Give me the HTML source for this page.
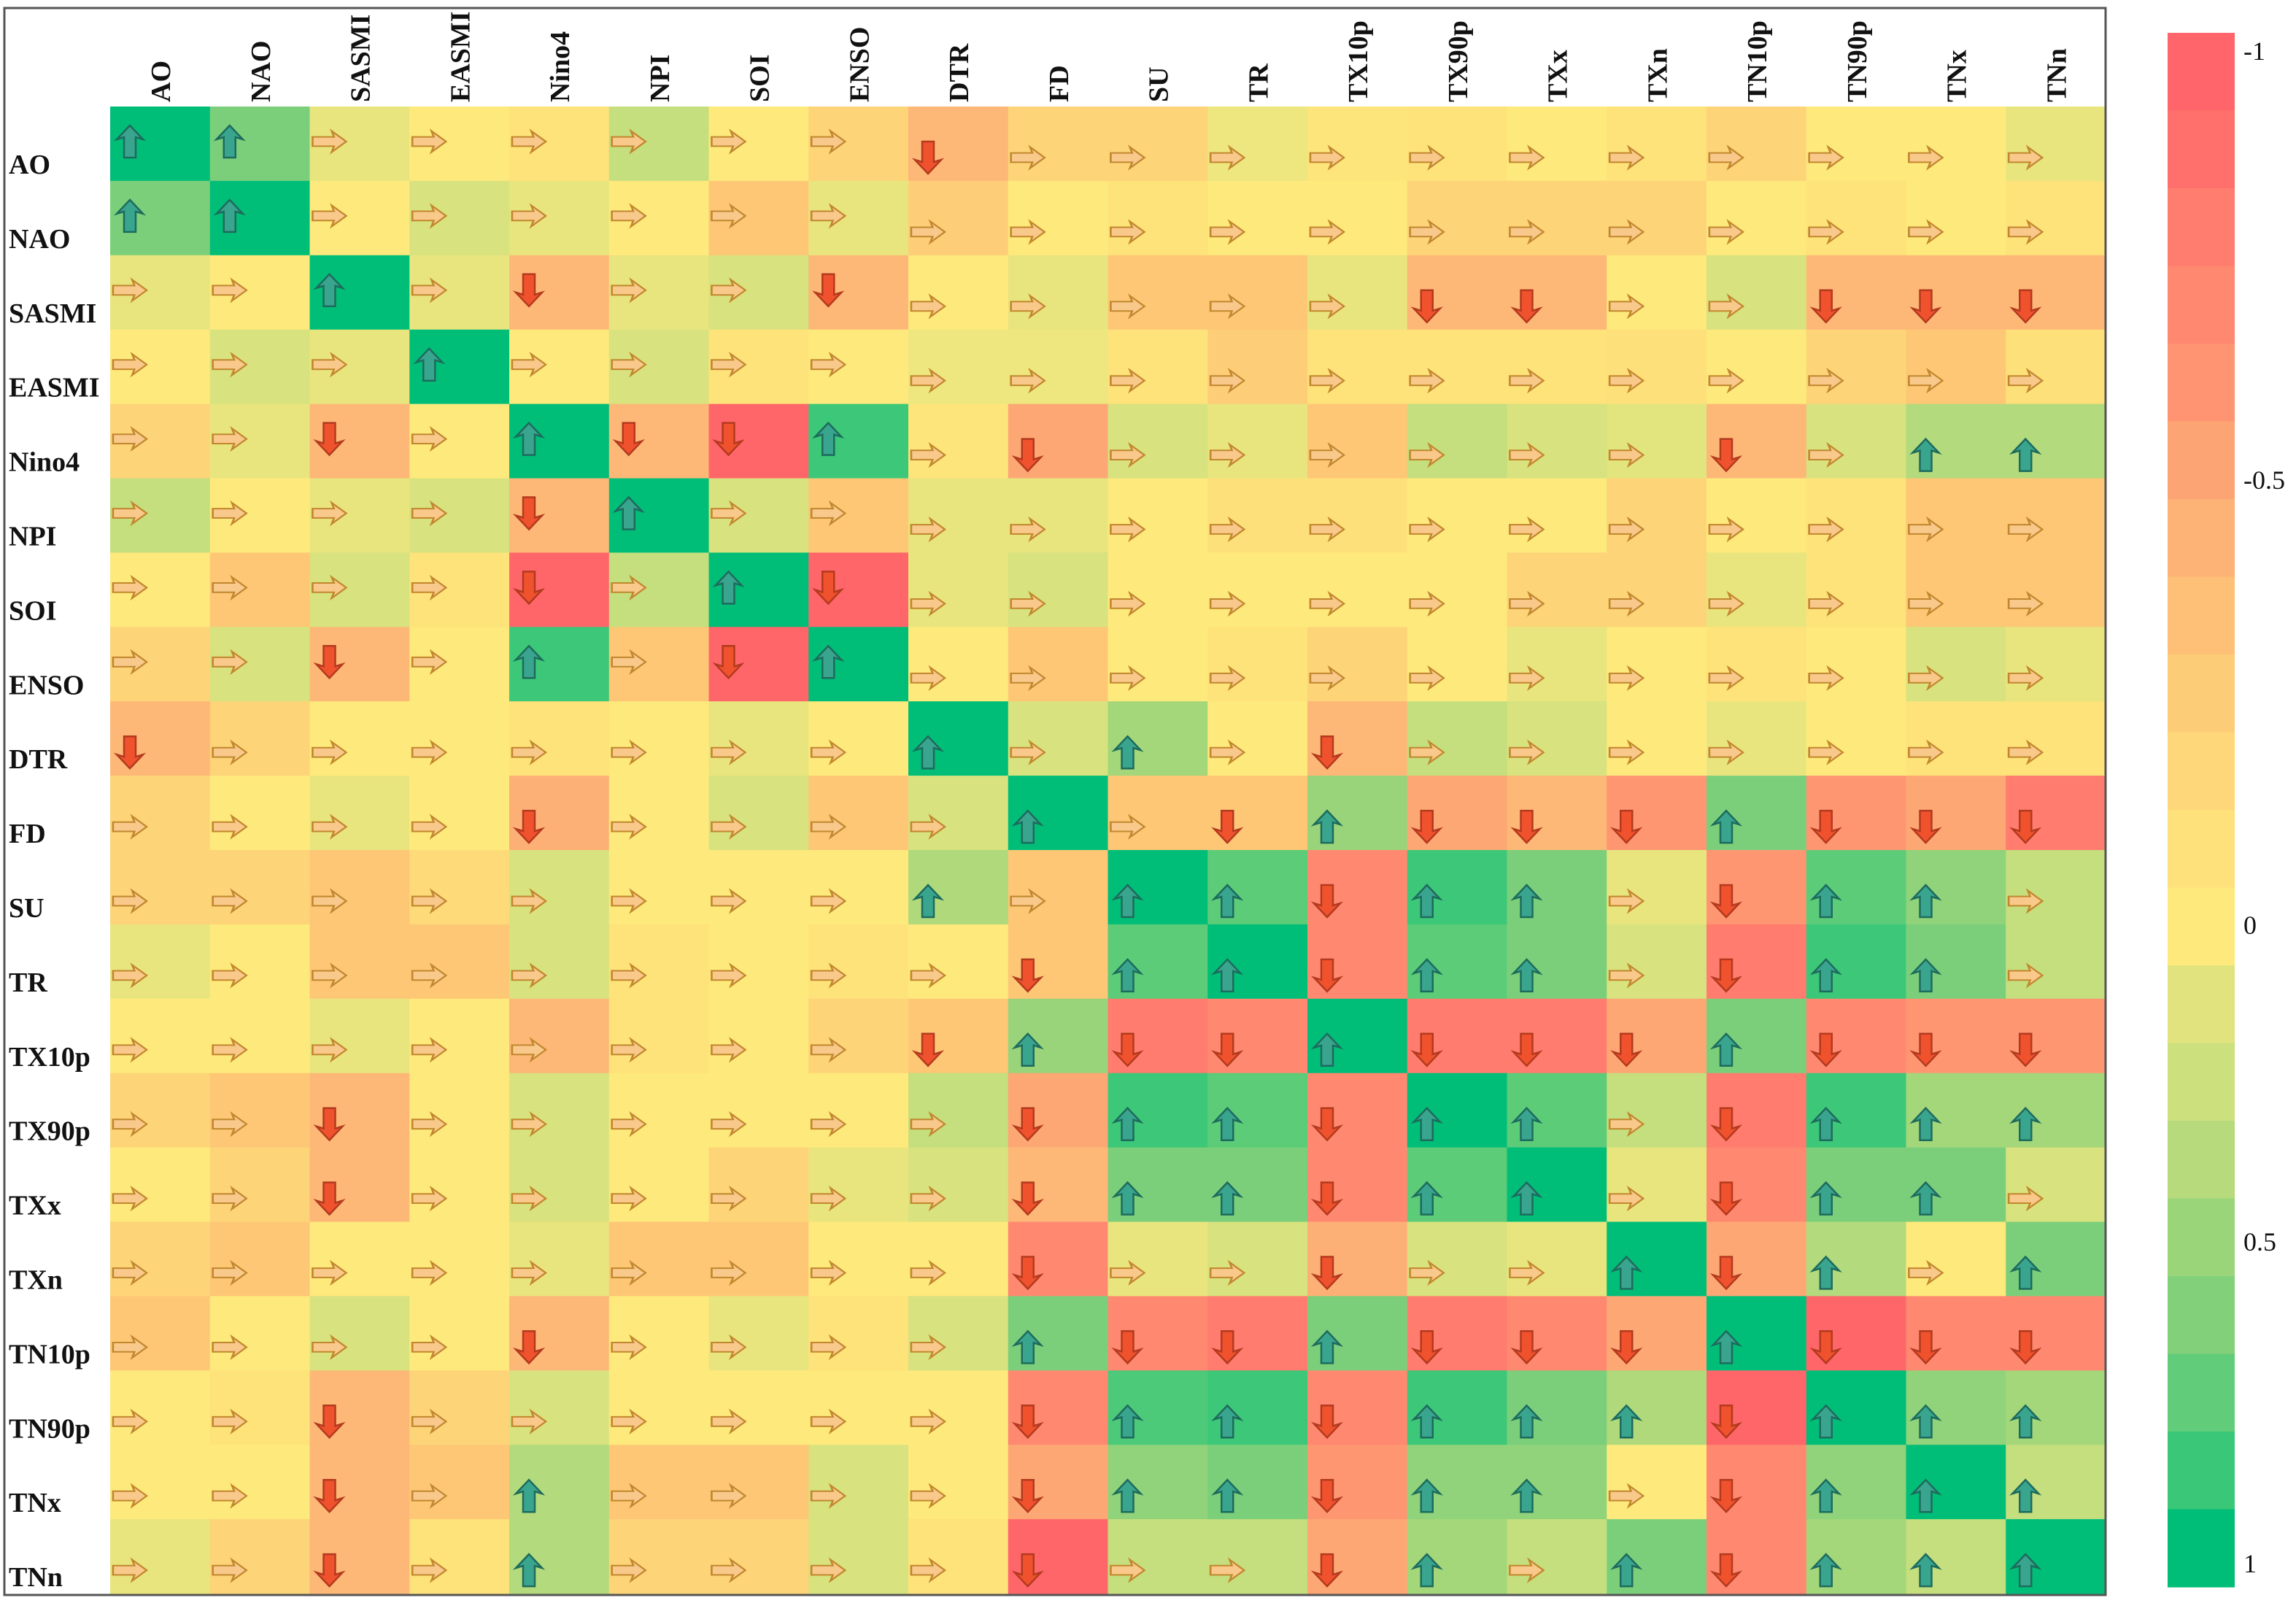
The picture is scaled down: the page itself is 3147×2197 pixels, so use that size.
<!DOCTYPE html>
<html><head><meta charset="utf-8"><style>
html,body{margin:0;padding:0;background:#fff;}
svg{display:block;}
text{font-family:"Liberation Serif",serif;}
</style></head><body>
<svg id="chart" width="3147" height="2197" viewBox="0 0 3147 2197" xmlns="http://www.w3.org/2000/svg">
<defs><clipPath id="frameClip"><rect x="6" y="11" width="2880" height="2175"/></clipPath></defs>
<rect x="0" y="0" width="3147" height="2197" fill="#fff"/>
<g id="cells" clip-path="url(#frameClip)"></g>
<rect x="6" y="11" width="2880" height="2175" fill="none" stroke="#555" stroke-width="3"/>
<g id="legend"></g>
</svg>
<script>
const labels = ["AO","NAO","SASMI","EASMI","Nino4","NPI","SOI","ENSO","DTR","FD","SU","TR","TX10p","TX90p","TXx","TXn","TN10p","TN90p","TNx","TNn"];
const rowAO    = [1,.65,.08,0,-.08,.3,0,-.2,-.4,-.2,-.2,.05,-.05,-.08,0,-.08,-.2,0,0,.08];
const rowNAO   = [.65,1,0,.18,.08,0,-.3,.08,-.25,0,-.08,0,0,-.2,-.2,-.2,0,-.08,0,-.08];
const rowSASMI = [.08,0,1,.08,-.4,.08,.18,-.4,0,.08,-.3,-.3,.08,-.4,-.4,0,.18,-.4,-.4,-.4];
const rowEASMI = [0,.18,.08,1,0,.18,-.08,0,.05,.05,-.08,-.25,-.08,-.08,-.08,-.1,0,-.2,-.3,-.1];
const rowNino4 = [-.2,.08,-.4,0,1,-.4,-.95,.85,-.05,-.5,.18,.08,-.3,.3,.18,.12,-.4,.18,.38,.38];
const rowNPI   = [.3,0,.08,.18,-.4,1,.18,-.3,.08,.08,0,-.1,-.1,0,0,-.2,0,-.08,-.3,-.3];
const rowSOI   = [0,-.3,.18,-.08,-.95,.3,1,-.95,.08,.18,0,0,0,0,-.2,-.2,.08,-.08,-.3,-.3];
const rowENSO  = [-.2,.18,-.4,0,.85,-.3,-.95,1,0,-.3,0,-.08,-.2,0,.08,0,-.08,0,.18,.08];
const rowDTR   = [-.4,-.2,0,0,-.08,0,.08,0,1,.18,.45,0,-.4,.3,.18,0,.08,0,-.08,-.08];
const rowFD    = [-.2,0,.08,0,-.45,0,.18,-.3,.18,1,-.3,-.3,.5,-.5,-.4,-.6,.65,-.6,-.5,-.8];
const rowSU    = [-.2,-.2,-.3,-.15,.18,0,0,0,.4,-.3,1,.75,-.7,.85,.65,.08,-.6,.75,.55,.3];
const rowTR    = [.08,0,-.3,-.3,.18,-.08,0,-.08,0,-.3,.75,1,-.7,.75,.65,.18,-.8,.85,.65,.3];
const rowTX10p = [0,0,.08,0,-.4,-.08,0,-.2,-.3,.5,-.8,-.7,1,-.8,-.8,-.5,.65,-.7,-.6,-.6];
const rowTX90p = [-.2,-.3,-.4,0,.18,0,0,0,.3,-.5,.85,.75,-.7,1,.75,.3,-.8,.85,.45,.45];
const rowTXx   = [0,-.2,-.4,0,.18,0,-.2,.08,.18,-.4,.65,.65,-.7,.75,1,.08,-.7,.65,.65,.18];
const rowTXn   = [-.2,-.3,0,0,.08,-.3,-.3,0,0,-.7,.08,.18,-.45,.18,.08,1,-.5,.38,0,.65];
const rowTN10p = [-.3,0,.18,0,-.4,0,.08,-.08,.18,.65,-.7,-.8,.65,-.8,-.7,-.5,1,-.95,-.7,-.7];
const rowTN90p = [0,-.08,-.4,-.2,.18,0,0,0,0,-.7,.8,.85,-.7,.85,.65,.4,-.95,1,.55,.45];
const rowTNx   = [0,0,-.4,-.3,.38,-.3,-.3,.18,0,-.5,.55,.65,-.6,.55,.55,0,-.7,.55,1,.3];
const rowTNn   = [.08,-.2,-.4,-.08,.38,-.2,-.2,.18,-.08,-.95,.3,.3,-.5,.45,.3,.65,-.7,.45,.3,1];
const values = [rowAO,rowNAO,rowSASMI,rowEASMI,rowNino4,rowNPI,rowSOI,rowENSO,rowDTR,rowFD,rowSU,rowTR,rowTX10p,rowTX90p,rowTXx,rowTXn,rowTN10p,rowTN90p,rowTNx,rowTNn];
const arrows = [
"UURRRRRRDRRRRRRRRRRR",
"UURRRRRRRRRRRRRRRRRR",
"RRURDRRDRRRRRDDRRDDD",
"RRRURRRRRRRRRRRRRRRR",
"RRDRUDDURDRRRRRRDRUU",
"RRRRDURRRRRRRRRRRRRR",
"RRRRDRUDRRRRRRRRRRRR",
"RRDRURDURRRRRRRRRRRR",
"DRRRRRRRURURDRRRRRRR",
"RRRRDRRRRURDUDDDUDDD",
"RRRRRRRRURUUDUURDUUR",
"RRRRRRRRRDUUDUURDUUR",
"RRRRRRRRDUDDUDDDUDDD",
"RRDRRRRRRDUUDUURDUUU",
"RRDRRRRRRDUUDUURDUUR",
"RRRRRRRRRDRRDRRUDURU",
"RRRRDRRRRUDDUDDDUDDD",
"RRDRRRRRRDUUDUUUDUUU",
"RRDRURRRRDUUDUURDUUU",
"RRDRURRRRDRRDURUDUUU"];
const legendTicks = [-1,-0.5,0,0.5,1];
const legendTickLabels = ["-1","-0.5","0","0.5","1"];

const stops=[[-1,"#ff646a"],[-0.95,"#ff666a"],[-0.8,"#ff7c6e"],[-0.7,"#fe8970"],[-0.6,"#fe9672"],[-0.5,"#fda874"],[-0.4,"#fdb877"],[-0.3,"#fdc776"],[-0.2,"#fdd478"],[-0.1,"#fee07a"],[0,"#fee97c"],[0.05,"#eee67e"],[0.15,"#dde37e"],[0.3,"#c5de7e"],[0.45,"#a4d67a"],[0.65,"#7ccf7a"],[0.85,"#3cc878"],[1,"#00be78"]];
function hex(h){return [1,3,5].map(i=>parseInt(h.substr(i,2),16));}
function color(v){
  for(let i=0;i<stops.length-1;i++){
    const [a,ca]=stops[i],[b,cb]=stops[i+1];
    if(v<=b){const t=(v-a)/(b-a||1),A=hex(ca),B=hex(cb);
      return "rgb("+A.map((x,k)=>Math.round(x+(B[k]-x)*Math.max(0,Math.min(1,t)))).join(",")+")";}
  }
  return stops[stops.length-1][1];
}
const X0=151,Y0=146,CW=(2886-151)/20,CH=(2184-146)/20;
function xPos(c){return X0+c*CW;}
function yPos(r){return Y0+r*CH;}
const NS="http://www.w3.org/2000/svg";
const cells=document.getElementById("cells");
const svg=document.getElementById("chart");
function mk(tag,attrs,parent){const e=document.createElementNS(NS,tag);for(const k in attrs)e.setAttribute(k,attrs[k]);parent.appendChild(e);return e;}
const UP="M0,-22 L18,-3 L8,-6 L8,22 L-8,22 L-8,-6 L-18,-3 Z";
for(let r=0;r<20;r++){
  for(let c=0;c<20;c++){
    const v=values[r][c];
    const rect=mk("rect",{x:xPos(c),y:yPos(r),width:CW+0.6,height:CH+0.6,fill:color(v)},cells);
    
    
    const a=arrows[r][c];
    const cx=xPos(c)+27, cy=yPos(r)+((r<8&&c<8)?48:70);
    let tr,fill,stroke;
    if(a==="U"){tr=`translate(${cx},${cy})`;fill="#3aa58f";stroke="#1d6b5c";}
    else if(a==="D"){tr=`translate(${cx},${cy}) rotate(180)`;fill="#f0522e";stroke="#b33a1e";}
    else {tr=`translate(${cx},${cy}) rotate(90) scale(0.8,1.05)`;fill="#f8c98a";stroke="#c2872e";}
    const p=mk("path",{d:UP,transform:tr,fill:fill,stroke:stroke,"stroke-width":2.5},cells);
    
    
  }
}
for(let i=0;i<20;i++){
  const t=mk("text",{x:12,y:yPos(i)+92,"font-size":38,"font-weight":"bold",fill:"#111"},svg);
  t.textContent=labels[i];
  
  
  const bx=xPos(i)+82, by=140;
  const h=mk("text",{x:bx,y:by,"font-size":38,"font-weight":"bold",fill:"#111",transform:`rotate(-90 ${bx} ${by})`},svg);
  h.textContent=labels[i];
  
  
}
const legPos=[70,658,1268,1702,2143];
function legY(v){
  for(let i=0;i<legendTicks.length-1;i++){
    if(v<=legendTicks[i+1]){const t=(v-legendTicks[i])/(legendTicks[i+1]-legendTicks[i]);return legPos[i]+t*(legPos[i+1]-legPos[i]);}
  }
  return legPos[legPos.length-1];
}
const lg=document.getElementById("legend");
const LT=45,LB=2175,NB=20,BH=(LB-LT)/NB;
for(let i=0;i<NB;i++){
  const yc=LT+(i+0.5)*BH;
  let v=-1;
  for(let k=0;k<legPos.length-1;k++){ if(yc>=legPos[k]) v=legendTicks[k]+(yc-legPos[k])/(legPos[k+1]-legPos[k])*(legendTicks[k+1]-legendTicks[k]); }
  v=Math.max(-1,Math.min(1,v));
  if(i===NB-1) v=1;
  const b=mk("rect",{x:2971,y:LT+i*BH,width:92,height:BH+0.6,fill:color(v)},lg);
  
  
}
legendTicks.forEach((v,i)=>{
  const t=mk("text",{x:3075,y:legY(v)+12,"font-size":36,fill:"#111"},lg);
  t.textContent=legendTickLabels[i];
  
  
});
</script>
</body></html>
